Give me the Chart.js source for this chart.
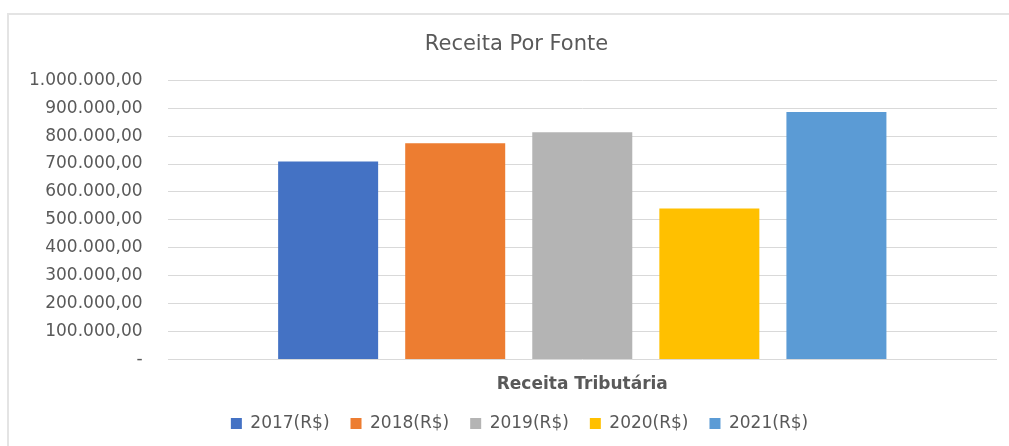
<!DOCTYPE html>
<html>
<head>
<meta charset="utf-8">
<script src="https://cdn.jsdelivr.net/npm/chart.js@4/dist/chart.umd.min.js"></script>
<style>
  html, body { margin: 0; padding: 0; background: #fff; overflow: hidden; }
  #lineTop { position: absolute; left: 7px; top: 13px; width: 1002px; height: 2px; background: #e4e4e4; }
  #lineLeft { position: absolute; left: 7px; top: 13px; width: 2px; height: 433px; background: #e4e4e4; }
  #wrap { position: absolute; left: 0; top: 0; width: 1009px; height: 446px; }
</style>
</head>
<body>
<div id="lineTop"></div>
<div id="lineLeft"></div>
<div id="wrap"><canvas id="chart"></canvas></div>
<script>
// dados
const categorias = ["Receita Tributária"];
const anos = ["2017(R$)", "2018(R$)", "2019(R$)", "2020(R$)", "2021(R$)"];
const valores = [709000, 774000, 814000, 541000, 886000];
const cores = ["#4472c4", "#ed7d31", "#b4b4b4", "#ffc000", "#5b9bd5"];
const yTicks = [0, 100000, 200000, 300000, 400000, 500000, 600000, 700000, 800000, 900000, 1000000];

const cinza = "#595959";
const encolheLegenda = 8;

function formatBR(v) {
  if (v === 0) return "-";
  return v.toLocaleString("pt-BR", { minimumFractionDigits: 2, maximumFractionDigits: 2 });
}

const datasets = anos.map((ano, i) => ({
  label: ano,
  data: [valores[i]],
  backgroundColor: cores[i],
  borderWidth: 0,
  categoryPercentage: 0.766,
  barPercentage: 0.787
}));

// ajustes de posição: legenda mais compacta na vertical,
// título e legenda um pouco à direita do centro como no original
const ajuste = {
  id: "ajuste",
  beforeLayout(chart) {
    const lg = chart.legend;
    if (lg && !lg._patched) {
      const fit = lg.fit;
      lg.fit = function () { fit.call(this); this.height -= encolheLegenda; };
      lg._patched = true;
    }
  },
  afterLayout(chart) {
    const lg = chart.legend;
    lg.left += 19; lg.right += 19;
    lg.top -= encolheLegenda;
    chart.titleBlock.left += 16;
    chart.titleBlock.right += 16;
  }
};

new Chart(document.getElementById("chart"), {
  type: "bar",
  data: { labels: categorias, datasets: datasets },
  plugins: [ajuste],
  options: {
    responsive: true,
    maintainAspectRatio: false,
    animation: false,
    layout: { padding: { top: 32, left: 4, right: 12, bottom: 4 } },
    plugins: {
      title: {
        display: true,
        text: "Receita Por Fonte",
        color: cinza,
        font: { family: "DejaVu Sans", size: 21, weight: "normal" },
        padding: { top: 0, bottom: 23 }
      },
      legend: {
        position: "bottom",
        labels: {
          color: cinza,
          boxWidth: 11,
          boxHeight: 11,
          padding: 21,
          font: { family: "DejaVu Sans", size: 17 }
        }
      },
      tooltip: { enabled: false }
    },
    scales: {
      x: {
        grid: { display: false },
        border: { display: false },
        ticks: {
          color: cinza,
          padding: 7,
          font: { family: "DejaVu Sans", size: 17, weight: "bold" }
        }
      },
      y: {
        min: 0,
        max: 1000000,
        afterBuildTicks: axis => { axis.ticks = yTicks.map(v => ({ value: v })); },
        grid: { color: "#d9d9d9", lineWidth: 1, drawTicks: false },
        border: { display: false },
        ticks: {
          color: cinza,
          padding: 25,
          font: { family: "DejaVu Sans", size: 17 },
          callback: v => formatBR(v)
        }
      }
    }
  }
});
</script>
</body>
</html>
